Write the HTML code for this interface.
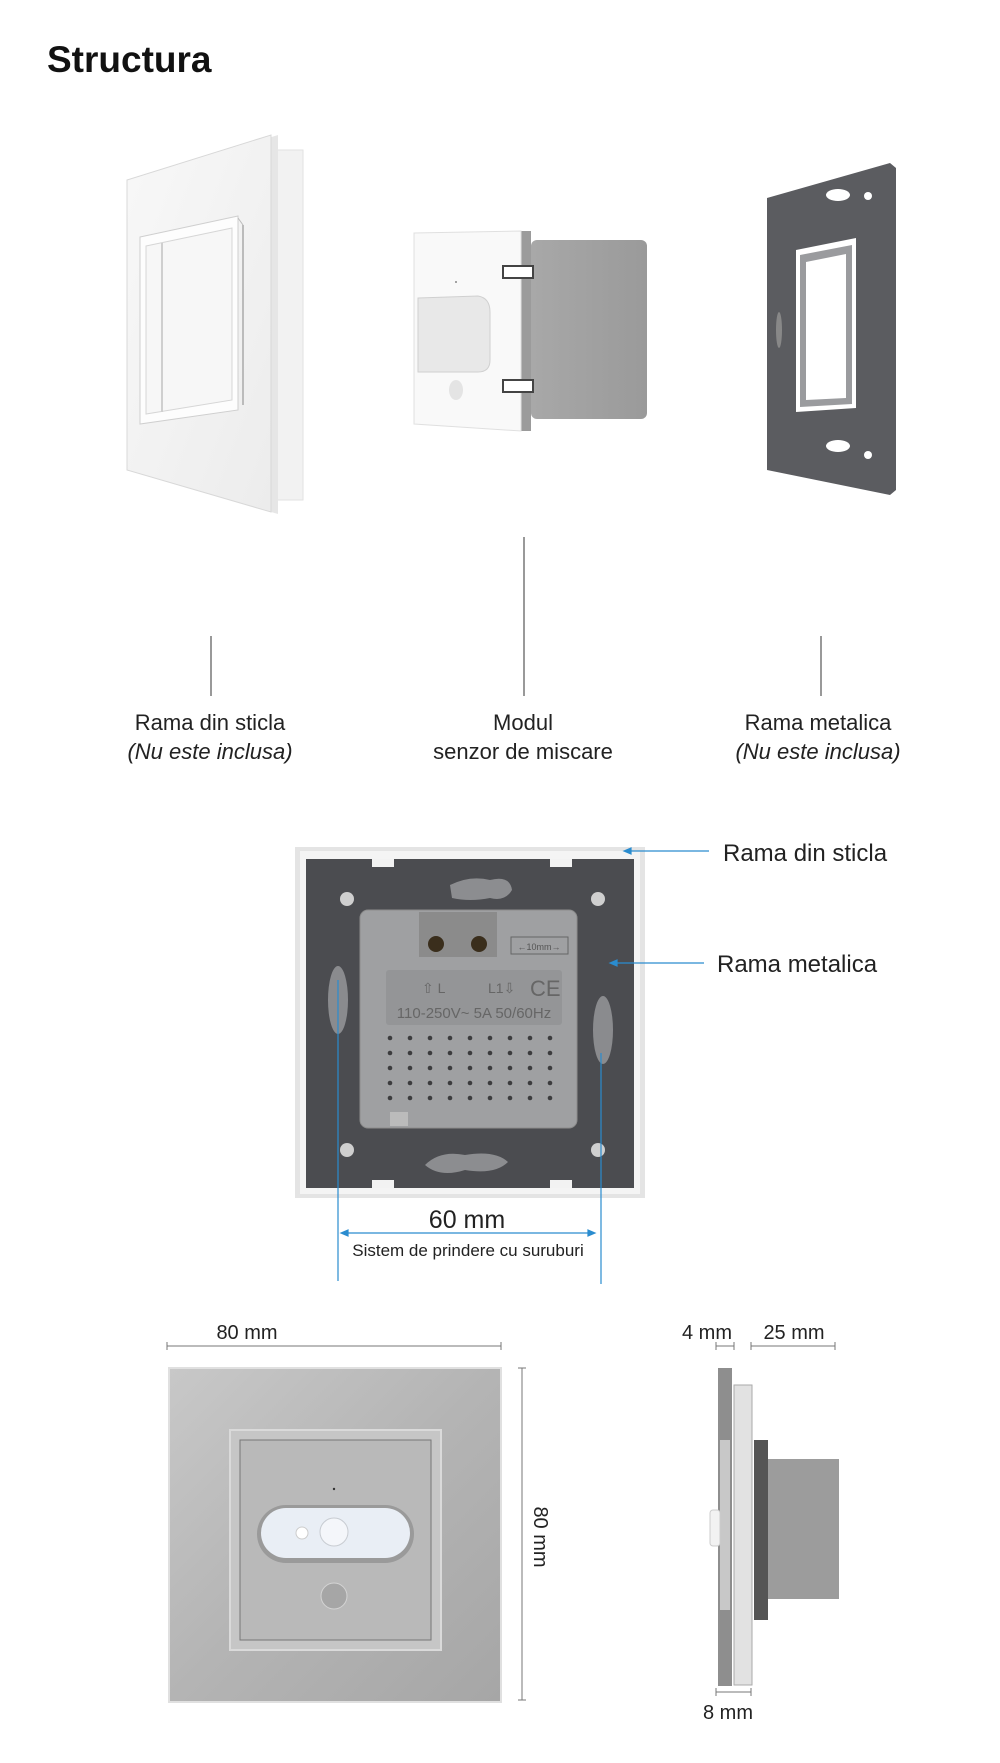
<!DOCTYPE html>
<html><head><meta charset="utf-8"><style>
html,body{margin:0;padding:0;background:#fff;}
svg{display:block;}
text{font-family:"Liberation Sans",sans-serif;fill:#222;}
</style></head><body>
<svg width="1000" height="1763" viewBox="0 0 1000 1763" xmlns="http://www.w3.org/2000/svg">
<defs>
<linearGradient id="gl" x1="0" y1="0" x2="1" y2="1"><stop offset="0" stop-color="#f8f8f8"/><stop offset="1" stop-color="#ececec"/></linearGradient>
<linearGradient id="gp" x1="0" y1="0" x2="1" y2="1"><stop offset="0" stop-color="#c8c8c8"/><stop offset="0.5" stop-color="#b4b4b4"/><stop offset="1" stop-color="#a6a6a6"/></linearGradient>
<linearGradient id="gb" x1="0" y1="0" x2="1" y2="0"><stop offset="0" stop-color="#a8a8a8"/><stop offset="1" stop-color="#9a9a9a"/></linearGradient>
</defs>
<text x="47" y="72" font-size="37" font-weight="bold" fill="#111" style="fill:#111">Structura</text>

<!-- glass frame 3D -->
<rect x="268" y="150" width="35" height="350" fill="#f2f2f2" stroke="#e2e2e2"/>
<polygon points="127,182 278,135 278,514 127,470" fill="#e6e6e6"/>
<polygon points="127,180 271,135 271,512 127,470" fill="url(#gl)" stroke="#d8d8d8"/>
<polygon points="140,237 238,216 238,410 140,424" fill="#fdfdfd" stroke="#cfcfcf"/>
<polygon points="146,246 232,228 232,400 146,414" fill="#f7f7f7" stroke="#d6d6d6"/>
<line x1="162" y1="243" x2="162" y2="412" stroke="#cfcfcf" stroke-width="2"/>
<line x1="238" y1="218" x2="243" y2="225" stroke="#bbb"/>
<line x1="243" y1="225" x2="243" y2="405" stroke="#bbb" stroke-width="2"/>

<!-- module -->
<rect x="531" y="240" width="116" height="179" rx="6" fill="url(#gb)"/>
<rect x="521" y="231" width="10" height="200" fill="#9b9b9b"/>
<polygon points="414,233 521,231 521,431 414,424" fill="#f9f9f9" stroke="#e0e0e0"/>
<rect x="503" y="266" width="30" height="12" fill="#fff" stroke="#444" stroke-width="2"/>
<rect x="503" y="380" width="30" height="12" fill="#fff" stroke="#444" stroke-width="2"/>
<path d="M418,298 L478,296 Q490,298 490,312 L490,360 Q490,372 478,372 L418,372 Z" fill="#e8e8e8" stroke="#d0d0d0"/>
<ellipse cx="456" cy="390" rx="7" ry="10" fill="#e4e4e4"/>
<circle cx="456" cy="282" r="1" fill="#888"/>

<!-- metal frame -->
<polygon points="767,198 890,163 896,168 896,490 890,495 767,470" fill="#5b5c60"/>
<polygon points="796,250 856,238 856,408 796,412" fill="#fff"/>
<polygon points="800,255 852,245 852,404 800,407" fill="#9a9b9e"/>
<polygon points="806,262 846,254 846,398 806,400" fill="#fff"/>
<ellipse cx="838" cy="195" rx="12" ry="6" fill="#fff"/>
<ellipse cx="838" cy="446" rx="12" ry="6" fill="#fff"/>
<circle cx="868" cy="196" r="4" fill="#fff"/><circle cx="868" cy="455" r="4" fill="#fff"/>
<ellipse cx="779" cy="330" rx="3" ry="18" fill="#888"/>

<!-- connector lines -->
<line x1="211" y1="636" x2="211" y2="696" stroke="#333"/>
<line x1="524" y1="537" x2="524" y2="696" stroke="#333"/>
<line x1="821" y1="636" x2="821" y2="696" stroke="#333"/>
<g font-size="22" text-anchor="middle">
<text x="210" y="730">Rama din sticla</text>
<text x="210" y="759" font-style="italic">(Nu este inclusa)</text>
<text x="523" y="730">Modul</text>
<text x="523" y="759">senzor de miscare</text>
<text x="818" y="730">Rama metalica</text>
<text x="818" y="759" font-style="italic">(Nu este inclusa)</text>
</g>

<!-- back view -->
<rect x="295" y="847" width="350" height="351" fill="#e4e4e4"/>
<rect x="300" y="851" width="340" height="343" fill="#f4f4f4"/>
<rect x="306" y="859" width="328" height="329" fill="#4b4c50"/>
<rect x="372" y="859" width="22" height="8" fill="#f2f2f2"/><rect x="550" y="859" width="22" height="8" fill="#f2f2f2"/>
<rect x="372" y="1180" width="22" height="8" fill="#f2f2f2"/><rect x="550" y="1180" width="22" height="8" fill="#f2f2f2"/>
<path d="M450,885 Q470,875 490,880 Q510,875 512,890 Q505,902 490,898 Q470,902 452,898 Z" fill="#8c8d90"/>
<path d="M425,1165 Q440,1150 465,1155 Q495,1150 508,1162 Q495,1175 465,1170 Q440,1178 425,1165 Z" fill="#8c8d90"/>
<ellipse cx="338" cy="1000" rx="10" ry="34" fill="#8a8b8e"/>
<ellipse cx="603" cy="1030" rx="10" ry="34" fill="#8a8b8e"/>
<circle cx="347" cy="899" r="7" fill="#cfcfcf"/><circle cx="598" cy="899" r="7" fill="#cfcfcf"/>
<circle cx="347" cy="1150" r="7" fill="#cfcfcf"/><circle cx="598" cy="1150" r="7" fill="#cfcfcf"/>
<rect x="360" y="910" width="217" height="218" rx="8" fill="#9fa0a2" stroke="#8c8c8c"/>
<rect x="419" y="912" width="78" height="45" fill="#8b8b8b"/>
<circle cx="436" cy="944" r="8" fill="#3a2e1c"/><circle cx="479" cy="944" r="8" fill="#3a2e1c"/>
<rect x="511" y="937" width="57" height="17" fill="none" stroke="#666"/>
<text x="539" y="950" font-size="9" text-anchor="middle" fill="#555" style="fill:#555">←10mm→</text>
<rect x="386" y="970" width="176" height="55" rx="3" fill="#949597"/>
<text x="422" y="993" font-size="14" fill="#666" style="fill:#666">⇧ L</text>
<text x="488" y="993" font-size="14" fill="#666" style="fill:#666">L1⇩</text>
<text x="530" y="996" font-size="22" fill="#666" style="fill:#666">CE</text>
<text x="474" y="1018" font-size="15" text-anchor="middle" fill="#666" style="fill:#666">110-250V~  5A  50/60Hz</text>
<g fill="#3c3c3e">
<g id="row"><circle cx="390" cy="1038" r="2.3"/><circle cx="410" cy="1038" r="2.3"/><circle cx="430" cy="1038" r="2.3"/><circle cx="450" cy="1038" r="2.3"/><circle cx="470" cy="1038" r="2.3"/><circle cx="490" cy="1038" r="2.3"/><circle cx="510" cy="1038" r="2.3"/><circle cx="530" cy="1038" r="2.3"/><circle cx="550" cy="1038" r="2.3"/></g>
<use href="#row" y="15"/><use href="#row" y="30"/><use href="#row" y="45"/><use href="#row" y="60"/>
</g>
<rect x="390" y="1112" width="18" height="14" fill="#bbb"/>

<!-- blue annotations -->
<g stroke="#2a8ccf" stroke-width="1.2" fill="#2a8ccf">
<line x1="628" y1="851" x2="709" y2="851"/><polygon points="624,851 631,848 631,854"/>
<line x1="614" y1="963" x2="704" y2="963"/><polygon points="610,963 617,960 617,966"/>
<line x1="338" y1="980" x2="338" y2="1281"/>
<line x1="601" y1="1053" x2="601" y2="1284"/>
<line x1="345" y1="1233" x2="591" y2="1233"/>
<polygon points="341,1233 348,1230 348,1236"/><polygon points="595,1233 588,1230 588,1236"/>
</g>
<text x="723" y="861" font-size="24">Rama din sticla</text>
<text x="717" y="972" font-size="24">Rama metalica</text>
<text x="467" y="1228" font-size="25" text-anchor="middle">60 mm</text>
<text x="468" y="1256" font-size="17" text-anchor="middle">Sistem de prindere cu suruburi</text>

<!-- front view -->
<text x="247" y="1339" font-size="20" text-anchor="middle">80 mm</text>
<g stroke="#777" stroke-width="1"><line x1="167" y1="1346" x2="501" y2="1346"/><line x1="167" y1="1342" x2="167" y2="1350"/><line x1="501" y1="1342" x2="501" y2="1350"/>
<line x1="522" y1="1368" x2="522" y2="1700"/><line x1="518" y1="1368" x2="526" y2="1368"/><line x1="518" y1="1700" x2="526" y2="1700"/></g>
<text x="0" y="0" font-size="20" text-anchor="middle" transform="translate(534,1537) rotate(90)">80 mm</text>
<rect x="169" y="1368" width="332" height="334" fill="url(#gp)" stroke="#e0e0e0" stroke-width="2"/>
<rect x="230" y="1430" width="211" height="220" fill="#c6c6c6" stroke="#dadada" stroke-width="2"/>
<rect x="240" y="1440" width="191" height="200" fill="#b9b9b9" stroke="#777" stroke-width="1"/>
<circle cx="334" cy="1489" r="1.2" fill="#333"/>
<rect x="257" y="1505" width="157" height="58" rx="29" fill="#9a9a9a"/>
<rect x="261" y="1508" width="149" height="50" rx="25" fill="#e9eef5"/>
<circle cx="334" cy="1532" r="14" fill="#f4f6fa" stroke="#c8ccd2"/>
<circle cx="302" cy="1533" r="6" fill="#fff" stroke="#ccc"/>
<circle cx="334" cy="1596" r="13" fill="#a6a6a6" stroke="#d4d4d4"/>

<!-- side view -->
<text x="707" y="1339" font-size="20" text-anchor="middle">4 mm</text>
<text x="794" y="1339" font-size="20" text-anchor="middle">25 mm</text>
<g stroke="#777" stroke-width="1">
<line x1="716" y1="1346" x2="734" y2="1346"/><line x1="716" y1="1342" x2="716" y2="1350"/><line x1="734" y1="1342" x2="734" y2="1350"/>
<line x1="751" y1="1346" x2="835" y2="1346"/><line x1="751" y1="1342" x2="751" y2="1350"/><line x1="835" y1="1342" x2="835" y2="1350"/>
<line x1="716" y1="1692" x2="751" y2="1692"/><line x1="716" y1="1688" x2="716" y2="1696"/><line x1="751" y1="1688" x2="751" y2="1696"/>
</g>
<text x="728" y="1719" font-size="20" text-anchor="middle">8 mm</text>
<rect x="766" y="1459" width="73" height="140" fill="#9c9c9c"/>
<rect x="754" y="1440" width="14" height="180" fill="#555"/>
<rect x="734" y="1385" width="18" height="300" fill="#e2e2e2" stroke="#aaa"/>
<rect x="718" y="1368" width="14" height="318" fill="#8e8e8e"/>
<rect x="720" y="1440" width="10" height="170" fill="#c8c8c8"/>
<rect x="710" y="1510" width="10" height="36" rx="3" fill="#f2f2f2" stroke="#ccc"/>
</svg>
</body></html>
